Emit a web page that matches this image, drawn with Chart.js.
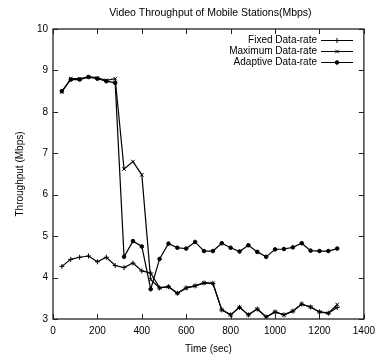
<!DOCTYPE html>
<html>
<head>
<meta charset="utf-8">
<script src="https://cdn.jsdelivr.net/npm/chart.js@4.4.1/dist/chart.umd.min.js"></script>
<style>
html, body { margin: 0; padding: 0; background: #fff; }
#wrap { width: 381px; height: 357px; }
</style>
</head>
<body>
<div id="wrap"><canvas id="myChart"></canvas></div>
<script>
(function () {

    'use strict';

    var titleText = 'Video Throughput of Mobile Stations(Mbps)';
    var seriesNames = ['Fixed Data-rate', 'Maximum Data-rate', 'Adaptive Data-rate'];
    var times = [40, 80, 120, 160, 200, 240, 280, 320, 360, 400, 440, 480, 520, 560, 600, 640,
                 680, 720, 760, 800, 840, 880, 920, 960, 1000, 1040, 1080, 1120, 1160, 1200, 1240, 1280];
    var fixedRate = [4.27, 4.44, 4.49, 4.52, 4.38, 4.49, 4.29, 4.24, 4.35, 4.16, 4.11,
                     3.75, 3.78, 3.62, 3.75, 3.8, 3.87, 3.86, 3.22, 3.1, 3.28, 3.1, 3.24, 3.05,
                     3.17, 3.1, 3.19, 3.36, 3.29, 3.17, 3.14, 3.28];
    var maximumRate = [8.48, 8.8, 8.8, 8.85, 8.82, 8.76, 8.8, 6.62, 6.8, 6.48, 3.95,
                       3.75, 3.78, 3.62, 3.75, 3.8, 3.87, 3.86, 3.22, 3.1, 3.28, 3.1, 3.24, 3.05,
                       3.17, 3.1, 3.19, 3.36, 3.29, 3.17, 3.14, 3.35];
    var adaptiveRate = [8.5, 8.78, 8.78, 8.84, 8.8, 8.74, 8.7, 4.5, 4.88, 4.75, 3.72,
                        4.45, 4.82, 4.72, 4.7, 4.86, 4.64, 4.64, 4.83, 4.72, 4.63, 4.78, 4.62, 4.5,
                        4.68, 4.69, 4.73, 4.83, 4.65, 4.64, 4.64, 4.7];
    var markers = ['cross', 'crossRot', 'circle'];
    var markerSizes = [2.5, 2.5, 1.8];

    function toPoints(values) {
        return values.map(function (v, i) { return { x: times[i], y: v }; });
    }

    var FONT = 'Liberation Sans, Arial, Helvetica, sans-serif';

    // gnuplot style frame: border, inward ticks on all sides, legend and title
    var framePlugin = {
        id: 'frame',
        afterDraw: function (chart) {
            var ctx = chart.ctx;
            var a = chart.chartArea;
            var xs = chart.scales.x, ys = chart.scales.y;
            ctx.save();
            ctx.strokeStyle = '#222';
            ctx.lineWidth = 1;
            ctx.beginPath();
            xs.ticks.forEach(function (t) {
                var px = Math.round(xs.getPixelForValue(t.value)) + 0.5;
                ctx.moveTo(px, a.bottom); ctx.lineTo(px, a.bottom - 5);
                ctx.moveTo(px, a.top); ctx.lineTo(px, a.top + 5);
            });
            ys.ticks.forEach(function (t) {
                var py = Math.round(ys.getPixelForValue(t.value)) + 0.5;
                ctx.moveTo(a.left, py); ctx.lineTo(a.left + 5, py);
                ctx.moveTo(a.right, py); ctx.lineTo(a.right - 5, py);
            });
            ctx.stroke();
            ctx.lineWidth = 1.3;
            ctx.strokeRect(a.left, a.top, a.right - a.left, a.bottom - a.top);

            ctx.fillStyle = '#000';
            ctx.font = '10.5px ' + FONT;
            ctx.textAlign = 'center';
            ctx.textBaseline = 'middle';
            ctx.fillText(titleText, (a.left + a.right) / 2 + 2, 13);

            ctx.font = '10px ' + FONT;
            ctx.textAlign = 'right';
            chart.data.datasets.forEach(function (ds, i) {
                var y = 40 + i * 11;
                ctx.fillStyle = '#000';
                ctx.fillText(ds.label, 317, y);
                ctx.strokeStyle = '#000';
                ctx.lineWidth = 1;
                ctx.beginPath();
                ctx.moveTo(321, y + 0.5); ctx.lineTo(353, y + 0.5);
                ctx.stroke();
                Chart.helpers.drawPoint(ctx, {
                    pointStyle: ds.pointStyle, radius: ds.pointRadius, borderWidth: 1, rotation: 0
                }, 337, y + 0.5);
            });
            ctx.restore();
        }
    };

    var colors = ['#000', '#000', '#000'];
    var series = [fixedRate, maximumRate, adaptiveRate];

    var ctx = document.getElementById('myChart').getContext('2d');
    var myChart = new Chart(ctx, {
        type: 'line',
        data: {
            datasets: series.map(function (vals, i) {
                return {
                    label: seriesNames[i],
                    data: toPoints(vals),
                    borderColor: colors[i],
                    backgroundColor: colors[i],
                    borderWidth: 1.2,
                    pointStyle: markers[i],
                    pointRadius: markerSizes[i],
                    pointBorderWidth: 1,
                    tension: 0
                };
            })
        },
        options: {
            responsive: true,
            maintainAspectRatio: false,
            animation: false,
            layout: { padding: { top: 29, right: 14, left: 0, bottom: 0 } },
            plugins: {
                legend: { display: false },
                title: { display: false },
                tooltip: { enabled: false }
            },
            scales: {
                x: {
                    type: 'linear',
                    min: 0,
                    max: 1400,
                    ticks: {
                        stepSize: 200, padding: 6, color: '#000', maxRotation: 0,
                        font: { family: FONT, size: 10 },
                        callback: function (v) { return String(v); }
                    },
                    grid: { display: false, drawTicks: false },
                    border: { display: false },
                    title: { display: true, text: 'Time (sec)', color: '#000', font: { family: FONT, size: 10 }, padding: { top: 0, bottom: 2 } },
                    afterFit: function (scale) { scale.height = 38; }
                },
                y: {
                    min: 3,
                    max: 10,
                    ticks: { stepSize: 1, padding: 5, color: '#000', font: { family: FONT, size: 10 } },
                    grid: { display: false, drawTicks: false },
                    border: { display: false },
                    title: { display: true, text: 'Throughput (Mbps)', color: '#000', font: { family: FONT, size: 10 }, padding: { top: 14, bottom: 0 } },
                    afterFit: function (scale) { scale.width = 53; }
                }
            }
        },
        plugins: [framePlugin]
    });

})();
</script>
</body>
</html>
